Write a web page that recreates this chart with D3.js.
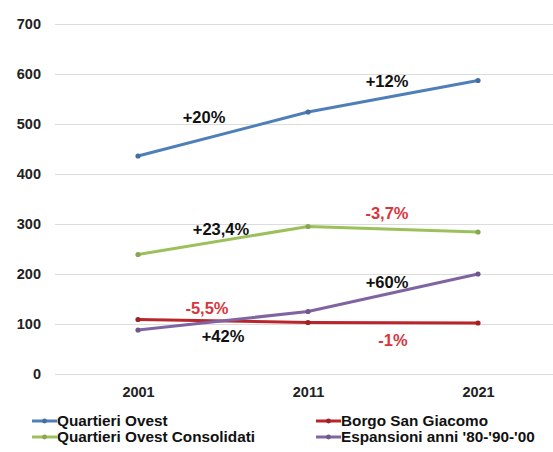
<!DOCTYPE html>
<html><head><meta charset="utf-8">
<script src="https://cdn.jsdelivr.net/npm/d3@7"></script>
<style>body{margin:0;background:#fff}svg{display:block;font-family:"Liberation Sans",Arial,sans-serif}</style>
</head><body>
<svg id="c" width="553" height="452"></svg>
<script>
const years = ["2001", "2011", "2021"];
const yTicks = [0, 100, 200, 300, 400, 500, 600, 700];
const seriesNames = ["Quartieri Ovest", "Borgo San Giacomo", "Quartieri Ovest Consolidati", "Espansioni anni '80-'90-'00"];
const quartieriOvest = [436, 524, 587];
const borgoSanGiacomo = [109, 103, 102];
const quartieriOvestConsolidati = [239, 295, 284];
const espansioni = [88, 125, 200];
const seriesColors = ["#4f7fb8", "#b8262b", "#9cc15c", "#8064a2"];
// change labels: [series index, segment index, text, negative?]
const changeLabels = [
  [0, 0, "+20%", false], [0, 1, "+12%", false],
  [2, 0, "+23,4%", false], [2, 1, "-3,7%", true],
  [1, 0, "-5,5%", true], [1, 1, "-1%", true],
  [3, 0, "+42%", false], [3, 1, "+60%", false]
];
const labelOffsets = [[-19,-11],[-6,-9],[-2,-6],[-6,-10],[-16,-7],[0,23],[0,21],[-6,-5]];

const values = [quartieriOvest, borgoSanGiacomo, quartieriOvestConsolidati, espansioni];
const svg = d3.select("#c");
const x = d3.scalePoint().domain(years).range([53, 563]).padding(0.5);
const y = d3.scaleLinear().domain([0, 700]).range([374, 24]);

// grid + y axis
const gy = svg.append("g").attr("transform", "translate(55,0)")
  .call(d3.axisLeft(y).tickValues(yTicks).tickSize(-500).tickPadding(14));
gy.select(".domain").remove();
gy.selectAll(".tick line").attr("stroke", "#dcdcdc").attr("stroke-width", 1);
gy.selectAll(".tick text").attr("fill", "#222").style("font-size", "14.5px").style("font-weight", "bold")
  .style("font-family", "'Liberation Sans',Arial,sans-serif");

// x axis
const gx = svg.append("g").attr("transform", "translate(0,374)")
  .call(d3.axisBottom(x).tickSize(0).tickPadding(13));
gx.select(".domain").remove();
gx.selectAll(".tick text").attr("fill", "#222").style("font-size", "14.5px").style("font-weight", "bold")
  .style("font-family", "'Liberation Sans',Arial,sans-serif");

const line = d3.line().x((d, i) => x(years[i])).y(d => y(d));
values.forEach((vals, s) => {
  svg.append("path").attr("d", line(vals)).attr("fill", "none")
    .attr("stroke", seriesColors[s]).attr("stroke-width", 3).attr("stroke-linejoin", "round");
  svg.selectAll(null).data(vals).enter().append("circle")
    .attr("cx", (d, i) => x(years[i])).attr("cy", d => y(d)).attr("r", 2.6)
    .attr("fill", d3.color(seriesColors[s]).darker(0.4));
});

changeLabels.forEach((l, k) => {
  const [s, seg, txt, neg] = l;
  const v = values[s];
  const mx = (x(years[seg]) + x(years[seg + 1])) / 2;
  const my = (y(v[seg]) + y(v[seg + 1])) / 2;
  svg.append("text").attr("x", mx + labelOffsets[k][0]).attr("y", my + labelOffsets[k][1])
    .attr("text-anchor", "middle").attr("fill", neg ? "#d8363c" : "#111")
    .style("font-size", "16.5px").style("font-weight", "bold").text(txt);
});

// legend
const legPos = [[32, 421], [316, 421], [32, 437], [316, 437]];
seriesNames.forEach((n, s) => {
  const [lx, ly] = legPos[s];
  svg.append("line").attr("x1", lx).attr("x2", lx + 25).attr("y1", ly).attr("y2", ly)
    .attr("stroke", seriesColors[s]).attr("stroke-width", 3);
  svg.append("circle").attr("cx", lx + 12.5).attr("cy", ly).attr("r", 2.4).attr("fill", d3.color(seriesColors[s]).darker(0.4));
  svg.append("text").attr("x", lx + 25).attr("y", ly + 5).attr("fill", "#111")
    .style("font-size", "15.3px").style("font-weight", "bold").text(n);
});
</script>
</body></html>
